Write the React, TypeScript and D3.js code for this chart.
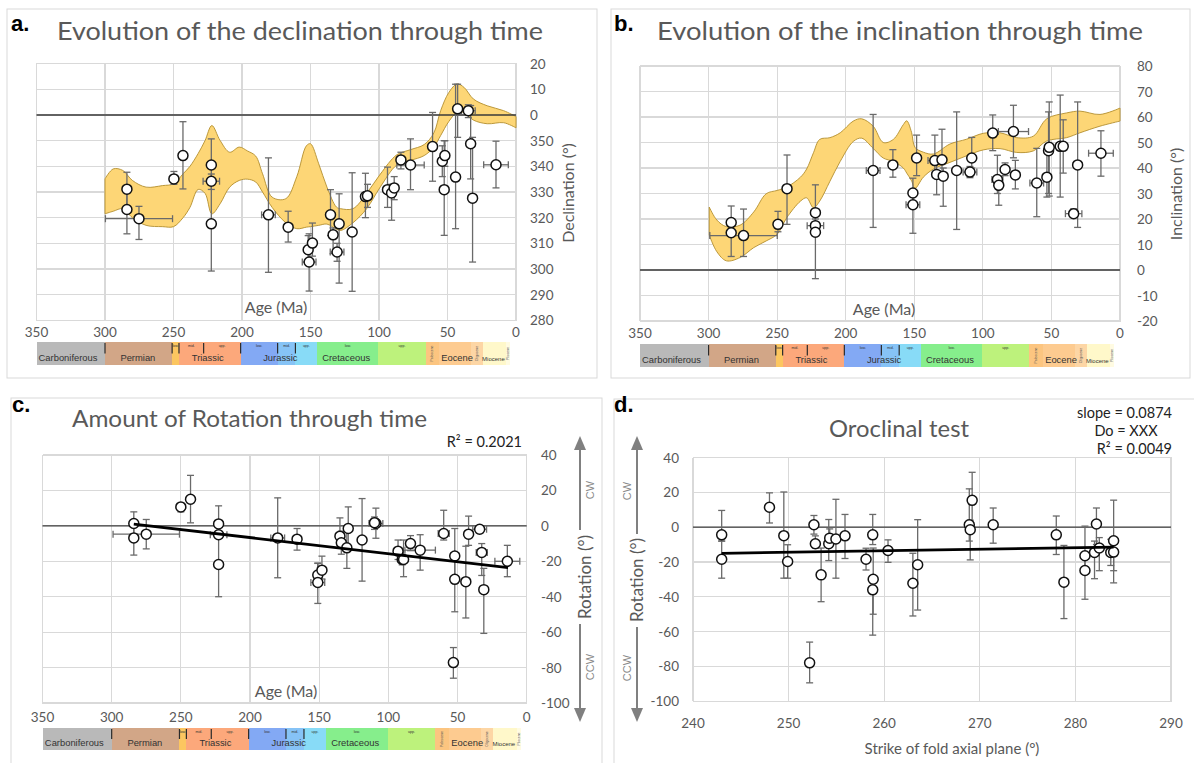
import React from 'react';
import * as d3 from 'd3';

type Pt = [number, number, number, number, number]; // [x, value, low, high, xErr]
type BandPt = [number, number, number]; // [age, lower, upper]

// ---------- Panel a: declination (values on a 280..380 scale, 360 = 0°) ----------
const declData: Pt[] = [
  [284, 331.1, 323.2, 337.7, 0],
  [284, 323.2, 313.7, 331.1, 0],
  [275.2, 319.6, 311.5, 324.4, 24.5],
  [249.7, 335.1, 333, 338, 0],
  [243.1, 344.2, 331.2, 357.4, 0],
  [222.4, 340.5, 334, 350.7, 0],
  [222.4, 334.2, 331, 337, 6],
  [222.4, 317.6, 299.2, 334, 0],
  [180.7, 321.1, 298.7, 343.3, 5],
  [166.3, 316.3, 310.5, 322.5, 0],
  [151.7, 307.5, 302, 313, 0],
  [148.6, 310.1, 305, 317.9, 0],
  [151, 302.7, 291.4, 313.7, 5],
  [135.4, 321.1, 313, 330.9, 0],
  [133.5, 313.3, 306, 316, 3],
  [129.1, 317.6, 294.5, 329.3, 0],
  [130.6, 306.6, 303, 310, 5],
  [119.6, 314.4, 291.3, 337.5, 0],
  [109.9, 328.2, 320, 337.3, 0],
  [108.4, 328.5, 324, 333, 0],
  [93.8, 330.9, 324, 339.7, 0],
  [90.8, 329.6, 319, 333, 0],
  [88.9, 331.6, 327, 336, 0],
  [84, 342.5, 339, 345.5, 0],
  [77, 340.5, 330.9, 350.7, 10],
  [60.9, 347.7, 334.2, 361, 0],
  [53.8, 342, 336, 348, 0],
  [51.9, 344.2, 340, 350, 0],
  [52.4, 330.9, 313.1, 350, 0],
  [44.1, 335.8, 315.7, 372, 0],
  [42.6, 362.4, 351.3, 372, 0],
  [34.8, 361.7, 359, 364, 5],
  [33.1, 348.8, 335.1, 363.7, 3],
  [31.7, 327.6, 302.7, 351.3, 0],
  [14.6, 340.6, 331.6, 349.8, 9],
];
const declBand: BandPt[] = [
  [300, 321.5, 335.1], [294, 322.5, 339], [287, 323.5, 338.4], [280, 320, 334.5],
  [270, 317, 331.9], [258, 316.5, 332.5], [250, 316.5, 333.2], [243, 320, 337.1],
  [238, 324, 340], [232, 331, 345], [227, 329.5, 350], [222, 321.5, 355.9],
  [216, 325.4, 350.1], [209, 331.9, 345.5], [202, 334.5, 347.5], [196, 335, 346],
  [190, 333.9, 344], [185, 330, 337.1], [178, 324, 328], [168, 318, 327.4],
  [160, 315.7, 336], [153, 316.3, 348], [150, 316.5, 348.8], [144, 317, 341],
  [138, 317.5, 331.9], [131, 315.5, 324.1], [128, 315, 323.5], [119, 318, 323.5],
  [109, 323.5, 329.5], [99, 332, 337], [87, 340.5, 344.5], [77, 342.3, 346.5],
  [67, 344.2, 348.5], [60, 347.5, 353], [55, 352, 361.7], [49, 357.5, 368.8],
  [43, 361, 372.1], [38, 361, 370.8], [31, 358, 366.2], [21, 356.6, 363.6],
  [9, 357, 361.7], [0, 355, 359.4],
];
const declTicks = [280, 290, 300, 310, 320, 330, 340, 350, 360, 370, 380];
const declTickLabels = ['280', '290', '300', '310', '320', '330', '340', '350', '0', '10', '20'];

// ---------- Panel b: inclination ----------
const inclData: Pt[] = [
  [283.5, 18.6, 14.6, 25.1, 0],
  [283.5, 14.6, 5.3, 18.6, 0],
  [274.5, 13.5, 5.3, 23.9, 24.6],
  [249.4, 17.9, 15, 23, 0],
  [242.8, 31.9, 17.9, 45.1, 0],
  [222.1, 22.5, 14.8, 33.4, 0],
  [222.1, 17.4, 14, 20, 6],
  [222.1, 14.8, -3.4, 22.5, 0],
  [180, 39, 16.7, 61, 5],
  [165.6, 41.2, 36.4, 47.2, 0],
  [151, 30.2, 25.6, 36, 0],
  [151, 25.6, 14.4, 30.2, 5],
  [148.3, 43.9, 37, 52.9, 0],
  [135, 42.9, 38, 52.9, 5],
  [133.7, 37.5, 29.5, 42, 0],
  [129.8, 43.2, 38, 55.2, 0],
  [128.9, 36.8, 25, 40, 0],
  [119.1, 39, 15.9, 62, 0],
  [109.4, 38.4, 36.2, 40.6, 5],
  [108.1, 43.9, 40, 52, 0],
  [92.8, 53.7, 46.8, 60.8, 0],
  [89.4, 35.5, 30, 45, 4],
  [88.4, 33.2, 25.4, 36, 0],
  [83.8, 39.4, 37, 42, 0],
  [77.7, 54.3, 44, 64.6, 11],
  [76.3, 37.3, 31.8, 43, 0],
  [60.7, 34.1, 20.9, 47.7, 5],
  [53.3, 36.4, 28.6, 46, 0],
  [52.1, 46.8, 30, 62, 0],
  [51.6, 48.1, 29, 65.9, 0],
  [43.6, 48.5, 28.6, 68.6, 0],
  [41.4, 48.5, 38, 58.9, 0],
  [33.8, 22.1, 21, 24, 6],
  [30.9, 41.2, 16.7, 65.9, 0],
  [13.9, 45.8, 36.8, 54.6, 9],
];
const inclBand: BandPt[] = [
  [299.5, 13.7, 24.7], [294, 7.2, 19.6], [287, 3.6, 17], [277, 4.9, 17.6],
  [267, 8.8, 22.8], [258, 11.4, 29.9], [250, 14, 31.2], [243, 20.5, 32.5],
  [233, 27, 36.4], [228.5, 28.3, 39.6], [223.5, 24.4, 46], [219, 27, 51.2],
  [211.5, 34.8, 51.9], [204, 42.6, 53.8], [194.5, 50.4, 58.4], [188.4, 51.7, 59.3],
  [180, 47.7, 56.4], [172.6, 43.9, 50], [165.3, 42.6, 51.2], [158, 40, 57],
  [155.5, 38, 58.5], [152, 35, 54], [149.5, 32, 48.1], [143.4, 36.4, 46.2],
  [136, 39.6, 45.5], [124, 42.2, 49.4], [111.8, 44.8, 51.3], [99.7, 47.1, 53.6],
  [87.5, 47.6, 53.8], [75.3, 46.1, 51.9], [63.2, 46.7, 52.5], [53.4, 50.6, 59.3],
  [38.9, 51.9, 61.6], [29.2, 53.8, 62.3], [14.6, 56.4, 61], [0, 58.4, 63.5],
];
const inclTicks = [-20, -10, 0, 10, 20, 30, 40, 50, 60, 70, 80];

// ---------- Panel c: rotation vs age ----------
const rotAgeData: Pt[] = [
  [284, 1.3, -6.8, 7.9, 0],
  [284, -6.8, -16.5, 1.3, 0],
  [275, -4.7, -13, 3.6, 24],
  [250, 10.7, 7.9, 12.5, 0],
  [243, 15, 1.7, 28.5, 0],
  [222.7, 1.1, -5, 11.3, 0],
  [222.7, -5, -7, -3, 6],
  [222.7, -21.8, -40, -5, 0],
  [180, -6.8, -29.3, 15.8, 5],
  [166, -7.5, -13.7, -1.5, 0],
  [151, -27.8, -32, -21.2, 0],
  [148, -25, -30, -17.1, 0],
  [151, -32, -43.8, -21, 5],
  [135, -5.8, -10, 4.5, 0],
  [134, -9.6, -16, -3, 3],
  [129, -1.5, -12.4, 10.7, 0],
  [130, -12.4, -24, -1.5, 0],
  [119, -8, -31.2, 15.4, 0],
  [109, 1.3, -7, 10, 5],
  [110, 1.8, -2, 5, 0],
  [93, -14.3, -19, -8, 0],
  [90, -19, -22, -14, 0],
  [89, -19, -28.7, -8, 0],
  [84, -10, -14, -5.5, 0],
  [77, -13.7, -25, -5, 11],
  [60, -4.3, -8, 8.8, 4],
  [52, -17, -30, -1.5, 3],
  [52, -30.2, -48.5, -17, 0],
  [44, -31.5, -52, -11.5, 0],
  [42, -4.7, -11, 5.5, 0],
  [34, -1.9, -4, 0, 5],
  [32.5, -15, -28, -10, 4],
  [31, -36, -60.7, -24, 0],
  [14, -20, -28.7, -11, 9],
  [53, -77.2, -86, -68.7, 0],
];
const rotAgeTrend = { slope: 0.0909, intercept: -24.8, from: 284, to: 13.5 };
const rotTicks = [-100, -80, -60, -40, -20, 0, 20, 40];

// ---------- Panel d: oroclinal test ----------
const oroData: Pt[] = [
  [243, -4.4, -8, 9.6, 0],
  [243, -18.4, -29.3, -8, 0],
  [248, 11.4, 2.4, 19.7, 0],
  [249.5, -4.9, -29.3, 20.2, 0],
  [249.9, -19.7, -29.3, -10.1, 0],
  [252.2, -77.9, -89.4, -66, 0],
  [252.65, 1.4, -4, 6.7, 0],
  [252.8, -9.5, -12, -5, 0],
  [253.4, -27.4, -42.8, -12, 0],
  [254.2, -9.5, -19.2, 4.4, 0],
  [254.3, -6.3, -10, -1, 0],
  [254.95, -6.8, -29.3, 16, 0],
  [255.9, -5, -18, 7.3, 0],
  [258.1, -18.4, -24.6, -12.1, 0],
  [258.8, -4.4, -10, 7.3, 0],
  [258.85, -29.9, -50, -12, 0],
  [258.8, -36, -62, -30, 0],
  [260.4, -13.4, -20.2, -7.3, 0],
  [263, -32.2, -51, -15, 0],
  [263.5, -21.6, -47.6, 4.3, 0],
  [268.9, 1.4, -8, 22, 0],
  [269, -1.5, -18.8, 4, 0],
  [269.2, 15.4, 0, 31.5, 0],
  [271.4, 1.4, -9.2, 11, 0],
  [278, -4.4, -15.7, 6.4, 0],
  [278.8, -31.6, -52.5, -10.5, 0],
  [281, -16.4, -24, 0.6, 0],
  [281, -24.9, -41.4, -16.4, 0],
  [282, -14.5, -29.6, -8, 0],
  [282.2, 1.8, -10, 11, 0],
  [282.5, -12, -25, -6, 0],
  [283.7, -14.5, -22, -7, 0],
  [284, -7.8, -32, 15.5, 0],
  [284, -14.3, -25, -8, 0],
];
const oroTrend = { slope: 0.0874, intercept: -36.24, from: 243, to: 284 };
const strikeTicks = [240, 250, 260, 270, 280, 290];
const ageTicks = [350, 300, 250, 200, 150, 100, 50, 0];

// ---------- Geological time scale ----------
const stageBounds = [350, 300, 251, 246, 228, 201, 174, 161, 145, 100.5, 66, 56, 33, 24, 7, 4.5];
const stageColors = ['#b9b9b9', '#d2a687', '#fcc660', '#fca87b', '#fca87b', '#83a9f4', '#86c3f6', '#88dbf7',
  '#86ee8c', '#bdf27c', '#fcc580', '#fdcb90', '#fdd6a5', '#fff8ca', '#fffbe2'];
const stageTiny = ['', '', 'low.', 'mid.', 'upp.', 'low.', 'mid.', 'upp.', 'low.', 'upp.', '', '', '', '', ''];
const stageVertical = ['', '', '', '', '', '', '', '', '', '', 'Paleocene', '', 'Oligocene', '', 'Pliocene'];
const boundaryTicks = [300, 251, 246, 228, 201, 174, 161];
const periodLabels = ['Carboniferous', 'Permian', 'Triassic', 'Jurassic', 'Cretaceous', 'Eocene', 'Miocene'];
const periodLabelAges = [327, 276, 225, 172, 124, 43, 16.5];

const GRID = '#d9d9d9';
const TXT = '#595959';
const FONT = "Lato, 'Open Sans', sans-serif";
const ARIAL = "'Liberation Sans', Arial, sans-serif";

type Lin = d3.ScaleLinear<number, number>;

function Grid({ x, y, xt, yt }: { x: Lin; y: Lin; xt: number[]; yt: number[] }) {
  const [x0, x1] = x.range();
  const [y0, y1] = y.range();
  return (
    <g shapeRendering="crispEdges">
      <rect x={Math.min(x0, x1)} y={Math.min(y0, y1)} width={Math.abs(x1 - x0)} height={Math.abs(y1 - y0)} fill="#fff" stroke={GRID} />
      {xt.map((t) => <line key={'x' + t} x1={x(t)} x2={x(t)} y1={y0} y2={y1} stroke={GRID} strokeWidth={1.2} />)}
      {yt.map((t) => <line key={'y' + t} x1={x0} x2={x1} y1={y(t)} y2={y(t)} stroke={GRID} strokeWidth={1.2} />)}
    </g>
  );
}

function ZeroLine({ x, y, v }: { x: Lin; y: Lin; v: number }) {
  const [x0, x1] = x.range();
  return <line x1={x0} x2={x1} y1={y(v)} y2={y(v)} stroke="#3a3a3a" strokeWidth={1.4} />;
}

function Band({ data, x, y }: { data: BandPt[]; x: Lin; y: Lin }) {
  const area = d3.area<BandPt>()
    .x((d) => x(d[0]))
    .y0((d) => y(d[1]))
    .y1((d) => y(d[2]))
    .curve(d3.curveCatmullRom.alpha(0.5));
  return <path d={area(data) || ''} fill="#fdd676" stroke="#b38f2e" strokeWidth={0.9} />;
}

function ErrPoints({ data, x, y }: { data: Pt[]; x: Lin; y: Lin }) {
  const c = 3.5;
  const col = '#6a6a6a';
  return (
    <g>
      {data.map((d, i) => {
        const px = x(d[0]);
        const ylo = y(d[2]);
        const yhi = y(d[3]);
        const py = y(d[1]);
        return (
          <g key={i} stroke={col} strokeWidth={1.3}>
            {d[2] !== d[3] && (
              <>
                <line x1={px} x2={px} y1={ylo} y2={yhi} />
                <line x1={px - c} x2={px + c} y1={ylo} y2={ylo} />
                <line x1={px - c} x2={px + c} y1={yhi} y2={yhi} />
              </>
            )}
            {d[4] > 0 && (
              <>
                <line x1={x(d[0] - d[4])} x2={x(d[0] + d[4])} y1={py} y2={py} />
                <line x1={x(d[0] - d[4])} x2={x(d[0] - d[4])} y1={py - c} y2={py + c} />
                <line x1={x(d[0] + d[4])} x2={x(d[0] + d[4])} y1={py - c} y2={py + c} />
              </>
            )}
          </g>
        );
      })}
      {data.map((d, i) => (
        <circle key={'c' + i} cx={x(d[0])} cy={y(d[1])} r={5} fill="#fff" stroke="#111" strokeWidth={1.5} />
      ))}
    </g>
  );
}

function Trend({ t, x, y }: { t: { slope: number; intercept: number; from: number; to: number }; x: Lin; y: Lin }) {
  const line = d3.line<number>().x((v) => x(v)).y((v) => y(t.intercept + t.slope * v));
  return <path d={line([t.from, t.to]) || ''} stroke="#000" strokeWidth={2.8} fill="none" />;
}

function TimeScale({ x, y0, h }: { x: Lin; y0: number; h: number }) {
  const segs = stageBounds.slice(0, -1).map((a, i) => ({ from: a, to: stageBounds[i + 1], i }));
  return (
    <g fontFamily={ARIAL}>
      {segs.map((s) => (
        <rect key={s.i} x={x(s.from)} y={y0} width={x(s.to) - x(s.from) + 0.3} height={h} fill={stageColors[s.i]} shapeRendering="crispEdges" />
      ))}
      {boundaryTicks.map((a) => (
        <line key={a} x1={x(a)} x2={x(a)} y1={y0 + 1} y2={y0 + h * 0.5} stroke="#2a2a2a" strokeWidth={1.2} />
      ))}
      {segs.map((s) => stageTiny[s.i] ? (
        <text key={'t' + s.i} x={(x(s.from) + x(s.to)) / 2} y={y0 + 5} fontSize={3.6} textAnchor="middle" fill="#333">{stageTiny[s.i]}</text>
      ) : null)}
      {segs.map((s) => stageVertical[s.i] ? (
        <text key={'v' + s.i} transform={`translate(${(x(s.from) + x(s.to)) / 2 + 1},${y0 + h / 2}) rotate(-90)`} fontSize={3.4} textAnchor="middle" fill="#555">{stageVertical[s.i]}</text>
      ) : null)}
      {periodLabels.map((t, i) => (
        <text key={t} x={x(periodLabelAges[i])} y={y0 + h - 4} fontSize={t === 'Miocene' ? 6 : 9.4} textAnchor="middle" fill="#333">{t}</text>
      ))}
    </g>
  );
}

function RotArrow({ x, top, bottom, textTop, textBottom, cwX, cwY, ccwY }: {
  x: number; top: number; bottom: number; textTop: number; textBottom: number; cwX: number; cwY: number; ccwY: number;
}) {
  const col = '#808080';
  const hw = 6;
  const hh = 14;
  return (
    <g>
      <line x1={x} x2={x} y1={top + hh} y2={textTop} stroke={col} strokeWidth={2} />
      <line x1={x} x2={x} y1={textBottom} y2={bottom - hh} stroke={col} strokeWidth={2} />
      <path d={`M${x},${top} L${x - hw},${top + hh} L${x + hw},${top + hh} Z`} fill={col} />
      <path d={`M${x},${bottom} L${x - hw},${bottom - hh} L${x + hw},${bottom - hh} Z`} fill={col} />
      <text transform={`translate(${cwX},${cwY}) rotate(-90)`} textAnchor="middle" dominantBaseline="central" fontSize={11} fill="#8a8a8a" fontFamily={ARIAL}>CW</text>
      <text transform={`translate(${cwX},${ccwY}) rotate(-90)`} textAnchor="middle" dominantBaseline="central" fontSize={11} fill="#8a8a8a" fontFamily={ARIAL}>CCW</text>
    </g>
  );
}

function VLabel({ x, y, text, size = 16 }: { x: number; y: number; text: string; size?: number }) {
  return (
    <text transform={`translate(${x},${y}) rotate(-90)`} textAnchor="middle" dominantBaseline="central" fontSize={size} fill={TXT}>{text}</text>
  );
}

export default function App() {
  // scales
  const xa = d3.scaleLinear().domain([350, 0]).range([36.5, 516]);
  const ya = d3.scaleLinear().domain([280, 380]).range([320.3, 63.7]);
  const xb = d3.scaleLinear().domain([350, 0]).range([640, 1120]);
  const yb = d3.scaleLinear().domain([-20, 80]).range([321, 66]);
  const xc = d3.scaleLinear().domain([350, 0]).range([42.5, 526.7]);
  const yc = d3.scaleLinear().domain([-100, 40]).range([703, 455]);
  const xd = d3.scaleLinear().domain([240, 290]).range([693, 1171]);
  const yd = d3.scaleLinear().domain([-100, 40]).range([701.3, 457.5]);

  return (
    <svg width={1194} height={763} style={{ position: 'absolute', left: 0, top: 0, background: '#fff' }} fontFamily={FONT}>
      <rect x={0} y={0} width={1194} height={763} fill="#fff" />
      {/* panel frames */}
      <rect x={7} y={9} width={590} height={369} fill="none" stroke="#d9d9d9" />
      <rect x={611} y={9} width={579} height={369} fill="none" stroke="#d9d9d9" />
      <rect x={11} y={398} width={591} height={380} fill="none" stroke="#d9d9d9" />
      <rect x={614} y={399} width={590} height={380} fill="none" stroke="#d9d9d9" />

      {/* ---------------- Panel a ---------------- */}
      <text x={11} y={31} fontSize={22} fontWeight="bold" fontFamily={ARIAL} fill="#000">a.</text>
      <text x={57} y={40} fontSize={25} fill={TXT} textLength={486} lengthAdjust="spacingAndGlyphs">Evolution of the declination through time</text>
      <Grid x={xa} y={ya} xt={ageTicks} yt={declTicks} />
      <Band data={declBand} x={xa} y={ya} />
      <ZeroLine x={xa} y={ya} v={360} />
      <ErrPoints data={declData} x={xa} y={ya} />
      {ageTicks.map((t) => <text key={t} x={xa(t)} y={337} fontSize={13.5} textAnchor="middle" fill={TXT}>{t}</text>)}
      {declTicks.map((t, i) => <text key={t} x={530} y={ya(t)} fontSize={13.5} dominantBaseline="central" fill={TXT}>{declTickLabels[i]}</text>)}
      <text x={276} y={313} fontSize={16} textAnchor="middle" fill={TXT}>Age (Ma)</text>
      <VLabel x={567} y={193} text="Declination (°)" />
      <TimeScale x={xa} y0={342} h={23} />

      {/* ---------------- Panel b ---------------- */}
      <text x={614} y={31} fontSize={22} fontWeight="bold" fontFamily={ARIAL} fill="#000">b.</text>
      <text x={657} y={40} fontSize={25} fill={TXT} textLength={486} lengthAdjust="spacingAndGlyphs">Evolution of the inclination through time</text>
      <Grid x={xb} y={yb} xt={ageTicks} yt={inclTicks} />
      <Band data={inclBand} x={xb} y={yb} />
      <ZeroLine x={xb} y={yb} v={0} />
      <ErrPoints data={inclData} x={xb} y={yb} />
      {ageTicks.map((t) => <text key={t} x={xb(t)} y={338} fontSize={13.5} textAnchor="middle" fill={TXT}>{t}</text>)}
      {inclTicks.map((t) => <text key={t} x={1137} y={yb(t)} fontSize={13.5} dominantBaseline="central" fill={TXT}>{t}</text>)}
      <text x={884} y={315} fontSize={16} textAnchor="middle" fill={TXT}>Age (Ma)</text>
      <VLabel x={1175} y={194} text="Inclination (°)" />
      <TimeScale x={xb} y0={344} h={23} />

      {/* ---------------- Panel c ---------------- */}
      <text x={12} y={412} fontSize={22} fontWeight="bold" fontFamily={ARIAL} fill="#000">c.</text>
      <text x={72} y={427} fontSize={24} fill={TXT} textLength={355} lengthAdjust="spacingAndGlyphs">Amount of Rotation through time</text>
      <text x={522} y={447} fontSize={14.5} textAnchor="end" fill="#222">R² = 0.2021</text>
      <Grid x={xc} y={yc} xt={ageTicks} yt={rotTicks} />
      <ZeroLine x={xc} y={yc} v={0} />
      <ErrPoints data={rotAgeData} x={xc} y={yc} />
      <Trend t={rotAgeTrend} x={xc} y={yc} />
      {ageTicks.map((t) => <text key={t} x={xc(t)} y={722} fontSize={13.5} textAnchor="middle" fill={TXT}>{t}</text>)}
      {rotTicks.map((t) => <text key={t} x={541} y={yc(t)} fontSize={13.5} dominantBaseline="central" fill={TXT}>{t}</text>)}
      <text x={286} y={697} fontSize={16} textAnchor="middle" fill={TXT}>Age (Ma)</text>
      <RotArrow x={580} top={436} bottom={722} textTop={530} textBottom={624} cwX={590} cwY={490} ccwY={667} />
      <VLabel x={584} y={577} text="Rotation (°)" size={17} />
      <TimeScale x={xc} y0={728} h={22} />

      {/* ---------------- Panel d ---------------- */}
      <text x={614} y={412} fontSize={22} fontWeight="bold" fontFamily={ARIAL} fill="#000">d.</text>
      <text x={829} y={437} fontSize={24} fill={TXT} textLength={140} lengthAdjust="spacingAndGlyphs">Oroclinal test</text>
      <text x={1172} y={418} fontSize={14.5} textAnchor="end" fill="#222">slope = 0.0874</text>
      <text x={1126} y={436} fontSize={14.5} textAnchor="middle" fill="#222">Do = XXX</text>
      <text x={1172} y={454} fontSize={14.5} textAnchor="end" fill="#222">R² = 0.0049</text>
      <Grid x={xd} y={yd} xt={strikeTicks} yt={rotTicks} />
      <ZeroLine x={xd} y={yd} v={0} />
      <ErrPoints data={oroData} x={xd} y={yd} />
      <Trend t={oroTrend} x={xd} y={yd} />
      {strikeTicks.map((t) => <text key={t} x={xd(t)} y={728} fontSize={13.5} textAnchor="middle" fill={TXT}>{t}</text>)}
      {rotTicks.map((t) => <text key={t} x={679} y={yd(t)} fontSize={13.5} textAnchor="end" dominantBaseline="central" fill={TXT}>{t}</text>)}
      <text x={952} y={754} fontSize={15} textAnchor="middle" fill={TXT}>Strike of fold axial plane (°)</text>
      <RotArrow x={637} top={436} bottom={722} textTop={534} textBottom={627} cwX={627} cwY={491} ccwY={668} />
      <VLabel x={636} y={580} text="Rotation (°)" size={17} />
    </svg>
  );
}
